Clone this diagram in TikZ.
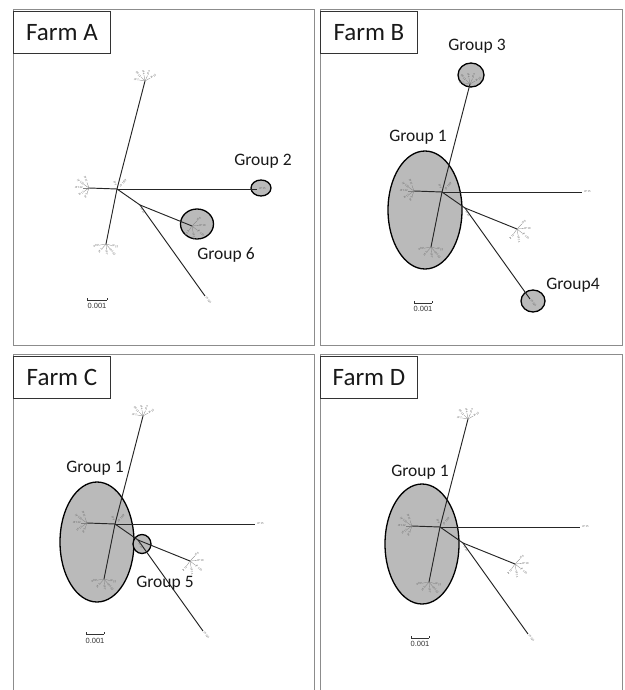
\documentclass[tikz,border=0pt]{standalone}
\usepackage{fontspec}
\setmainfont{Carlito}
\newfontfamily\barfont{Liberation Sans}
\usetikzlibrary{shapes.geometric}
\definecolor{grpfill}{RGB}{186,186,186}
\definecolor{framecol}{RGB}{140,140,140}
\tikzset{
  panel/.style={draw=framecol, line width=0.9pt},
  farmbox/.style={draw=black!80, line width=0.9pt, fill=white, anchor=north west,
    minimum width=97pt, minimum height=42pt, inner sep=0pt,
    font=\fontsize{25}{30}\selectfont, text=black!90},
  grouplabel/.style={font=\fontsize{17.5}{21}\selectfont, text=black!90, inner sep=0pt},
  grp/.style={ellipse, draw=black, line width=1.3pt, fill=grpfill, inner sep=0pt},
  branch/.style={line width=0.95pt, black!85},
  spoke/.style={line width=0.3pt, gray},
  leaf/.style={font=\fontsize{3}{3}\selectfont, text=gray!80!black, inner sep=0.2pt},
  scalebar/.style={line width=0.6pt, black!80},
  scaletext/.style={font=\barfont\fontsize{7.5}{8}\selectfont, inner sep=0pt, text=black!80},
  pics/phylo/.style={code={
    \coordinate (-h) at (0,0);
    \coordinate (-t) at (28,-108);
    \coordinate (-d) at (-11,55);
    \coordinate (-l) at (-28,-1);
    \coordinate (-r) at (140,0);
    \coordinate (-s) at (23,16);
    \coordinate (-a) at (75,37);
    \coordinate (-b) at (88,107);
    \draw[branch] (-h) -- (-t);
    \draw[branch] (-h) -- (-d);
    \draw[branch] (-h) -- (-l);
    \draw[branch] (-h) -- (-r);
    \draw[branch] (-h) -- (-s);
    \draw[branch] (-s) -- (-a);
    \draw[branch] (-s) -- (-b);
    \foreach \ang/\txt in {30/JP 16, 65/JP 9}
      {\draw[spoke] (-t) -- ++(\ang:6pt) node[leaf, anchor=west, rotate=\ang] {\txt};}
    \foreach \ang/\txt in {100/JP 4, 135/0012, 170/JP 1}
      {\draw[spoke] (-t) -- ++(\ang:6pt) node[leaf, anchor=east, rotate=\ang-180] {\txt};}
    \foreach \ang/\txt in {110/JP 11, 145/JP 110, 180/JP 112, 215/JP 17, 250/JP 3}
      {\draw[spoke] (-l) -- ++(\ang:6pt) node[leaf, anchor=east, rotate=\ang-180] {\txt};}
    \foreach \ang/\txt in {190/0011, 230/JP 2}
      {\draw[spoke] (-d) -- ++(\ang:6pt) node[leaf, anchor=east, rotate=\ang-180] {\txt};}
    \foreach \ang/\txt in {-85/JP 7, -50/JP 102, -15/JP 13}
      {\draw[spoke] (-d) -- ++(\ang:6pt) node[leaf, anchor=west, rotate=\ang] {\txt};}
    \foreach \ang/\txt in {-80/JP 14, -38/JP 110, 4/JP 10, 46/JP 6}
      {\draw[spoke] (-a) -- ++(\ang:7pt) node[leaf, anchor=west, rotate=\ang] {\txt};}
    \foreach \ang/\txt in {235/JP 12}
      {\draw[spoke] (-a) -- ++(\ang:6pt) node[leaf, anchor=east, rotate=\ang-180] {\txt};}
    \node[leaf, anchor=west] at ([xshift=2pt]-r) {JP 15};
    \node[leaf, anchor=west, rotate=-54] at ([xshift=1pt,yshift=-1pt]-b) {JP 124};
    \node[leaf, anchor=west, rotate=50] at ([xshift=3pt,yshift=2pt]-h) {JP 1109};
    \node[leaf, anchor=east, rotate=-70] at ([xshift=-1pt,yshift=3pt]-h) {JP 9};
    \node[leaf, anchor=west, rotate=-60] at ([xshift=1pt,yshift=-3pt]-s) {JP 21};
  }}
}
\begin{document}
\begin{tikzpicture}[x=1pt, y=-1pt]
\useasboundingbox (0,0) rectangle (624,690);

% ---------- panel frames ----------
\draw[panel] (13,9) rectangle (314,345);
\draw[panel] (320,9) rectangle (622,345);
\draw[panel] (13,691) -- (13,354) -- (314,354) -- (314,691);
\draw[panel] (320,691) -- (320,354) -- (622,354) -- (622,691);

% ---------- Farm A ----------
\node[grp, minimum width=20pt, minimum height=16pt] (a-g2) at (261,188) {};
\node[grp, minimum width=33pt, minimum height=30pt] (a-g6) at (197,224) {};
\pic (ta) at (117,189) {phylo};
\node[grouplabel] (a-l2) at (263,161) {Group 2};
\node[grouplabel] (a-l6) at (226,255) {Group 6};
\coordinate (a-s1) at (87,300); \coordinate (a-s2) at (107,300);
\draw[scalebar] (a-s1) -- (a-s2);
\draw[scalebar] (a-s1) -- ++(0,-2.5); \draw[scalebar] (a-s2) -- ++(0,-2.5);
\node[scaletext] (a-st) at (97,306) {0.001};
\node[farmbox] (a-box) at (13,11) {Farm A};

% ---------- Farm B ----------
\node[grp, minimum width=74pt, minimum height=118pt] (b-g1) at (425,210) {};
\node[grp, minimum width=26pt, minimum height=24pt] (b-g3) at (471,75) {};
\node[grp, minimum width=24pt, minimum height=22pt] (b-g4) at (533,301) {};
\pic (tb) at (442,192) {phylo};
\node[grouplabel] (b-l3) at (477,46) {Group 3};
\node[grouplabel] (b-l1) at (418,137) {Group 1};
\node[grouplabel] (b-l4) at (573,285) {Group4};
\coordinate (b-s1) at (414,303); \coordinate (b-s2) at (432,303);
\draw[scalebar] (b-s1) -- (b-s2);
\draw[scalebar] (b-s1) -- ++(0,-2.5); \draw[scalebar] (b-s2) -- ++(0,-2.5);
\node[scaletext] (b-st) at (423,309) {0.001};
\node[farmbox] (b-box) at (320,11) {Farm B};

% ---------- Farm C ----------
\node[grp, minimum width=74pt, minimum height=120pt] (c-g1) at (97,542) {};
\node[grp, minimum width=18pt, minimum height=19pt] (c-g5) at (142,544) {};
\pic (tc) at (115,524) {phylo};
\node[grouplabel] (c-l1) at (95,468) {Group 1};
\node[grouplabel] (c-l5) at (165,583) {Group 5};
\coordinate (c-s1) at (86,634); \coordinate (c-s2) at (104,634);
\draw[scalebar] (c-s1) -- (c-s2);
\draw[scalebar] (c-s1) -- ++(0,-2.5); \draw[scalebar] (c-s2) -- ++(0,-2.5);
\node[scaletext] (c-st) at (95,641) {0.001};
\node[farmbox] (c-box) at (13,356) {Farm C};

% ---------- Farm D ----------
\node[grp, minimum width=74pt, minimum height=120pt] (d-g1) at (422,544) {};
\pic (td) at (440,527) {phylo};
\node[grouplabel] (d-l1) at (420,472) {Group 1};
\coordinate (d-s1) at (411,638); \coordinate (d-s2) at (429,638);
\draw[scalebar] (d-s1) -- (d-s2);
\draw[scalebar] (d-s1) -- ++(0,-2.5); \draw[scalebar] (d-s2) -- ++(0,-2.5);
\node[scaletext] (d-st) at (420,644) {0.001};
\node[farmbox] (d-box) at (320,356) {Farm D};
\end{tikzpicture}
\end{document}
